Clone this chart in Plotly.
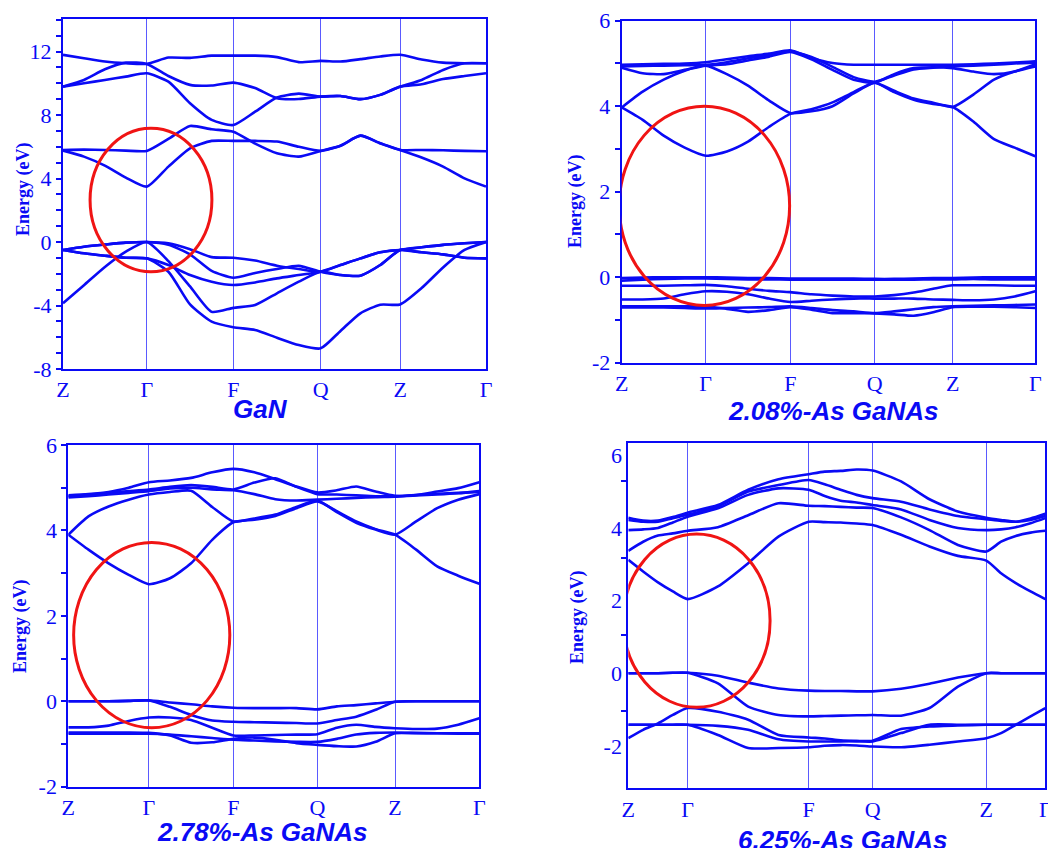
import plotly.graph_objects as go

BLUE = "rgb(10,10,245)"
GRID = "rgb(90,90,255)"
RED = "rgb(240,20,20)"

KLABELS = ["Z", "Γ", "F", "Q", "Z", "Γ"]

# ---------------- GaN ----------------
GAN_KPOS = [0.0, 0.198, 0.4026, 0.609, 0.797, 1.0]
GAN_YRANGE = [-8, 14.05]
GAN_YLABELS = [-8, -4, 0, 4, 8, 12]
GAN_BANDS = [
    [5.76, 5.38, 4.81, 4.06, 3.49, 4.75, 5.9, 6.37, 6.37, 6.37, 6.33, 6.0, 5.74, 6.07, 6.7, 6.22, 5.8, 5.32, 4.75, 4.01, 3.49],
    [5.8, 5.82, 5.8, 5.76, 5.74, 6.5, 7.31, 7.1, 6.95, 6.2, 5.59, 5.38, 5.74, 6.07, 6.7, 6.22, 5.8, 5.8, 5.78, 5.74, 5.72],
    [11.79, 11.58, 11.37, 11.26, 11.22, 11.62, 11.6, 11.74, 11.74, 11.74, 11.65, 11.33, 11.41, 11.37, 11.52, 11.69, 11.8, 11.5, 11.3, 11.26, 11.26],
    [9.79, 10.21, 10.88, 11.3, 11.22, 10.46, 9.9, 9.86, 10.04, 9.7, 9.06, 9.01, 9.16, 9.2, 9.0, 9.27, 9.79, 10.21, 10.84, 11.26, 11.26],
    [9.79, 10.0, 10.21, 10.42, 10.63, 10.1, 8.74, 7.69, 7.37, 8.21, 9.1, 9.35, 9.16, 9.2, 9.0, 9.27, 9.79, 9.94, 10.27, 10.46, 10.63],
    [-0.5, -0.3, -0.16, -0.04, 0.0, -0.08, -0.45, -0.95, -0.99, -1.17, -1.49, -1.7, -1.87, -1.45, -1.03, -0.65, -0.5, -0.33, -0.18, -0.08, 0.0],
    [-0.5, -0.3, -0.16, -0.04, 0.0, -0.18, -0.78, -1.82, -2.25, -1.95, -1.7, -1.5, -1.87, -2.08, -2.12, -1.45, -0.5, -0.65, -0.78, -0.99, -1.03],
    [-0.5, -0.71, -0.86, -0.99, -1.03, -1.45, -2.08, -2.5, -2.71, -2.55, -2.29, -2.08, -1.87, -1.45, -1.03, -0.65, -0.5, -0.65, -0.78, -0.99, -1.03],
    [-3.86, -2.72, -1.57, -0.61, 0.0, -1.2, -2.8, -4.4, -4.15, -3.97, -3.23, -2.5, -1.87, -2.08, -2.12, -1.45, -0.5, -0.33, -0.18, -0.08, 0.0],
    [-0.5, -0.71, -0.86, -0.99, -1.03, -1.87, -3.93, -5.02, -5.37, -5.54, -6.03, -6.49, -6.7, -5.6, -4.49, -3.95, -3.93, -2.9, -1.6, -0.5, 0.0],
]

# ---------------- 2.08%-As GaNAs ----------------
A208_KPOS = [0.0, 0.203, 0.4077, 0.6117, 0.8003, 1.0]
A208_YRANGE = [-2, 6]
A208_YLABELS = [-2, 0, 2, 4, 6]
A208_BANDS = [
    [3.97, 3.68, 3.31, 3.03, 2.84, 2.94, 3.17, 3.52, 3.82, 3.93, 4.09, 4.33, 4.55, 4.33, 4.15, 4.05, 3.98, 3.64, 3.23, 3.03, 2.83],
    [3.97, 4.34, 4.62, 4.83, 4.95, 4.75, 4.48, 4.13, 3.84, 3.88, 4.0, 4.3, 4.55, 4.36, 4.18, 4.08, 3.98, 4.27, 4.62, 4.81, 4.93],
    [4.9, 4.77, 4.75, 4.85, 4.95, 4.98, 5.07, 5.16, 5.27, 5.1, 4.85, 4.62, 4.55, 4.75, 4.89, 4.91, 4.89, 4.81, 4.75, 4.81, 4.98],
    [4.97, 4.98, 4.99, 5.0, 5.03, 5.1, 5.17, 5.23, 5.31, 5.13, 5.01, 4.97, 4.97, 4.97, 4.97, 4.97, 4.97, 4.98, 5.0, 5.02, 5.05],
    [4.93, 4.94, 4.95, 4.96, 4.97, 5.03, 5.12, 5.2, 5.28, 5.15, 4.92, 4.68, 4.57, 4.72, 4.86, 4.9, 4.93, 4.95, 4.97, 5.0, 5.02],
    [-0.02, -0.01, 0.0, 0.0, 0.0, -0.01, -0.02, -0.02, -0.03, -0.03, -0.03, -0.03, -0.04, -0.04, -0.03, -0.02, -0.02, -0.01, 0.0, 0.0, 0.0],
    [-0.08, -0.06, -0.04, -0.03, -0.03, -0.04, -0.05, -0.05, -0.06, -0.06, -0.06, -0.06, -0.06, -0.06, -0.06, -0.05, -0.05, -0.04, -0.05, -0.05, -0.05],
    [-0.2, -0.2, -0.2, -0.19, -0.18, -0.21, -0.27, -0.32, -0.35, -0.4, -0.43, -0.45, -0.45, -0.42, -0.36, -0.27, -0.19, -0.19, -0.19, -0.2, -0.2],
    [-0.52, -0.52, -0.5, -0.4, -0.33, -0.34, -0.4, -0.5, -0.58, -0.55, -0.52, -0.5, -0.5, -0.5, -0.5, -0.52, -0.53, -0.54, -0.52, -0.45, -0.33],
    [-0.68, -0.68, -0.68, -0.68, -0.68, -0.74, -0.81, -0.77, -0.7, -0.76, -0.84, -0.84, -0.85, -0.87, -0.9, -0.82, -0.7, -0.69, -0.69, -0.7, -0.72],
    [-0.71, -0.71, -0.71, -0.72, -0.73, -0.72, -0.71, -0.7, -0.68, -0.72, -0.77, -0.8, -0.84, -0.8, -0.75, -0.7, -0.68, -0.67, -0.66, -0.65, -0.64],
]

# ---------------- 2.78%-As GaNAs ----------------
A278_KPOS = [0.0, 0.196, 0.4015, 0.606, 0.795, 1.0]
A278_YRANGE = [-2, 6]
A278_YLABELS = [-2, 0, 2, 4, 6]
A278_BANDS = [
    [3.9, 3.55, 3.23, 2.96, 2.74, 2.88, 3.23, 3.78, 4.19, 4.25, 4.34, 4.52, 4.68, 4.45, 4.21, 4.03, 3.9, 3.55, 3.16, 2.94, 2.75],
    [3.9, 4.33, 4.56, 4.72, 4.84, 4.9, 4.93, 4.55, 4.21, 4.28, 4.37, 4.55, 4.7, 4.43, 4.18, 4.02, 3.9, 4.21, 4.52, 4.72, 4.85],
    [4.82, 4.85, 4.9, 5.0, 5.13, 5.17, 5.23, 5.36, 5.44, 5.36, 5.2, 5.03, 4.89, 4.94, 5.03, 4.91, 4.81, 4.83, 4.91, 4.99, 5.13],
    [4.8, 4.84, 4.88, 4.92, 4.96, 5.02, 5.06, 5.02, 4.96, 5.12, 5.22, 5.02, 4.85, 4.84, 4.82, 4.8, 4.8, 4.83, 4.86, 4.88, 4.9],
    [4.77, 4.8, 4.84, 4.88, 4.92, 4.98, 5.0, 4.96, 4.94, 4.85, 4.73, 4.7, 4.72, 4.74, 4.76, 4.78, 4.79, 4.82, 4.84, 4.87, 4.92],
    [0.0, 0.0, 0.0, 0.01, 0.02, -0.03, -0.07, -0.12, -0.15, -0.16, -0.16, -0.16, -0.19, -0.12, -0.09, -0.05, -0.01, 0.0, 0.0, 0.0, 0.0],
    [0.0, 0.0, 0.0, 0.01, 0.02, -0.13, -0.32, -0.45, -0.48, -0.49, -0.5, -0.51, -0.52, -0.44, -0.36, -0.2, -0.01, 0.0, 0.0, 0.0, 0.0],
    [-0.61, -0.61, -0.57, -0.46, -0.38, -0.38, -0.44, -0.62, -0.8, -0.8, -0.79, -0.78, -0.77, -0.62, -0.55, -0.6, -0.63, -0.65, -0.64, -0.55, -0.4],
    [-0.73, -0.73, -0.73, -0.73, -0.74, -0.8, -0.97, -0.96, -0.88, -0.85, -0.9, -0.98, -1.02, -1.05, -1.06, -0.95, -0.75, -0.75, -0.75, -0.75, -0.75],
    [-0.76, -0.76, -0.76, -0.76, -0.76, -0.78, -0.82, -0.86, -0.9, -0.92, -0.94, -0.95, -0.95, -0.88, -0.78, -0.74, -0.73, -0.74, -0.75, -0.76, -0.76],
]

# ---------------- 6.25%-As GaNAs ----------------
A625_KPOS = [0.0, 0.1424, 0.4326, 0.586, 0.8585, 1.0]
A625_YRANGE = [-3.17, 6.33]
A625_YLABELS = [-2, 0, 2, 4, 6]
A625_MINOR = [5.29, 3.18, 1.06, -1.04]
A625_BANDS = [
    [3.12, 2.8, 2.5, 2.25, 2.04, 2.39, 3.03, 3.76, 4.17, 4.16, 4.15, 4.12, 4.08, 3.81, 3.49, 3.23, 3.1, 2.75, 2.48, 2.25, 2.04],
    [3.37, 3.62, 3.79, 3.85, 3.92, 4.02, 4.35, 4.68, 4.61, 4.6, 4.58, 4.56, 4.55, 4.29, 3.94, 3.53, 3.35, 3.62, 3.78, 3.87, 3.92],
    [3.94, 3.96, 4.0, 4.15, 4.31, 4.54, 4.91, 5.09, 5.05, 4.88, 4.75, 4.7, 4.63, 4.51, 4.22, 4.0, 3.94, 3.96, 4.02, 4.13, 4.27],
    [4.22, 4.17, 4.17, 4.27, 4.36, 4.59, 5.0, 5.18, 5.32, 5.2, 5.05, 4.91, 4.82, 4.72, 4.51, 4.33, 4.24, 4.19, 4.17, 4.22, 4.33],
    [4.28, 4.2, 4.2, 4.3, 4.42, 4.63, 5.05, 5.34, 5.48, 5.55, 5.57, 5.61, 5.58, 5.28, 4.79, 4.45, 4.28, 4.22, 4.17, 4.26, 4.39],
    [0.0, 0.0, 0.0, 0.01, 0.01, -0.07, -0.26, -0.42, -0.48, -0.49, -0.49, -0.5, -0.5, -0.43, -0.29, -0.12, 0.0, 0.0, 0.0, 0.0, 0.0],
    [0.0, 0.0, 0.0, 0.01, 0.01, -0.28, -0.92, -1.15, -1.19, -1.18, -1.17, -1.16, -1.15, -1.17, -0.96, -0.37, 0.0, 0.0, 0.0, 0.0, 0.0],
    [-1.79, -1.56, -1.38, -1.15, -0.96, -1.06, -1.28, -1.7, -1.77, -1.8, -1.85, -1.87, -1.88, -1.65, -1.42, -1.42, -1.42, -1.42, -1.42, -1.42, -1.42],
    [-1.42, -1.42, -1.42, -1.42, -1.42, -1.45, -1.56, -1.82, -1.88, -1.88, -1.88, -1.87, -1.86, -1.54, -1.47, -1.44, -1.42, -1.42, -1.42, -1.42, -1.42],
    [-1.42, -1.42, -1.42, -1.42, -1.42, -1.7, -2.06, -2.06, -2.04, -2.0, -1.98, -1.99, -2.02, -2.04, -1.97, -1.88, -1.79, -1.65, -1.42, -1.19, -0.96],
]

TITLES = ["GaN", "2.08%-As GaNAs", "2.78%-As GaNAs", "6.25%-As GaNAs"]

# highlight ellipses: (k centre, energy centre, k half-width, energy half-height)
ELLIPSES = [
    (0.208, 2.65, 0.144, 4.52),
    (0.200, 1.67, 0.206, 2.33),
    (0.203, 1.55, 0.190, 2.17),
    (0.164, 1.445, 0.176, 2.385),
]

# page offset of the figure inside the browser page (default body margin)
OFF = 8
FIG_W, FIG_H = 1056 - OFF, 848 - OFF


def fx(px):
    return (px - OFF) / FIG_W


def fy(py):
    return 1 - (py - OFF) / FIG_H


def kgrid(kpos, n=4):
    xs = []
    for i in range(len(kpos) - 1):
        for j in range(n):
            xs.append(kpos[i] + (kpos[i + 1] - kpos[i]) * j / n)
    xs.append(kpos[-1])
    return xs


panels = [
    dict(kpos=GAN_KPOS, bands=GAN_BANDS, yrange=GAN_YRANGE, ylabels=GAN_YLABELS,
         minor=dict(dtick=1, tick0=0),
         box=(63, 486, 19, 369), tpos=(260, 409), apos=(23, 190)),
    dict(kpos=A208_KPOS, bands=A208_BANDS, yrange=A208_YRANGE, ylabels=A208_YLABELS,
         minor=dict(dtick=1, tick0=0),
         box=(621.7, 1035.3, 20.7, 362.7), tpos=(833, 411), apos=(575, 202)),
    dict(kpos=A278_KPOS, bands=A278_BANDS, yrange=A278_YRANGE, ylabels=A278_YLABELS,
         minor=dict(dtick=1, tick0=0),
         box=(68.3, 479.3, 445, 786.7), tpos=(262, 832), apos=(20, 627)),
    dict(kpos=A625_KPOS, bands=A625_BANDS, yrange=A625_YRANGE, ylabels=A625_YLABELS,
         minor=dict(tickvals=A625_MINOR),
         box=(628.3, 1045.3, 443.3, 788.3), tpos=(843, 840), apos=(577, 618)),
]

fig = go.Figure()
layout = dict(
    width=FIG_W, height=FIG_H,
    margin=dict(l=0, r=0, t=0, b=0, pad=0, autoexpand=False),
    paper_bgcolor="white", plot_bgcolor="white",
    showlegend=False,
    shapes=[], annotations=[],
)

for i, p in enumerate(panels):
    n = i + 1
    xa = "x" if n == 1 else f"x{n}"
    ya = "y" if n == 1 else f"y{n}"
    xs = kgrid(p["kpos"])
    for band in p["bands"]:
        fig.add_trace(go.Scatter(
            x=xs, y=band, xaxis=xa, yaxis=ya, mode="lines",
            line=dict(color=BLUE, width=2.6, shape="spline", smoothing=0.6),
            hoverinfo="skip",
        ))
    minor = dict(ticks="outside", ticklen=5, tickcolor=BLUE, tickwidth=1.5, showgrid=False)
    minor.update(p["minor"])
    major_len = 0 if n == 4 else 5
    x0, x1, y0, y1 = p["box"]
    layout[f"xaxis{'' if n == 1 else n}"] = dict(
        domain=[fx(x0), fx(x1)], anchor=ya, range=[0, 1], automargin=False,
        tickvals=p["kpos"], ticktext=KLABELS, ticks="",
        showgrid=True, gridcolor=GRID, gridwidth=1.2,
        showline=True, mirror=True, linecolor=BLUE, linewidth=2,
        zeroline=False,
        tickfont=dict(family="Liberation Serif", size=22, color=BLUE),
    )
    layout[f"yaxis{'' if n == 1 else n}"] = dict(
        domain=[fy(y1), fy(y0)], anchor=xa, range=p["yrange"], automargin=False,
        tickvals=p["ylabels"], ticktext=[str(v) for v in p["ylabels"]],
        ticks="outside", ticklen=major_len, tickcolor=BLUE, tickwidth=1.5,
        minor=minor,
        showgrid=False, zeroline=False,
        showline=True, mirror=True, linecolor=BLUE, linewidth=2,
        tickfont=dict(family="Liberation Serif", size=22, color=BLUE),
    )
    xc, yc, rx, ry = ELLIPSES[i]
    layout["shapes"].append(dict(
        type="circle", xref=xa, yref=ya,
        x0=xc - rx, x1=xc + rx, y0=yc - ry, y1=yc + ry,
        line=dict(color=RED, width=3), layer="above",
    ))
    tx, ty = p["tpos"]
    layout["annotations"].append(dict(
        text=f"<b><i>{TITLES[i]}</i></b>", xref="paper", yref="paper",
        x=fx(tx), y=fy(ty), xanchor="center", yanchor="middle",
        showarrow=False, font=dict(family="Liberation Sans", size=26, color=BLUE),
    ))
    axx, axy = p["apos"]
    layout["annotations"].append(dict(
        text="<b>Energy (eV)</b>", xref="paper", yref="paper",
        x=fx(axx), y=fy(axy), xanchor="center", yanchor="middle",
        textangle=-90, showarrow=False,
        font=dict(family="Liberation Serif", size=18, color=BLUE),
    ))

fig.update_layout(**layout)
fig.write_html("out.html")
